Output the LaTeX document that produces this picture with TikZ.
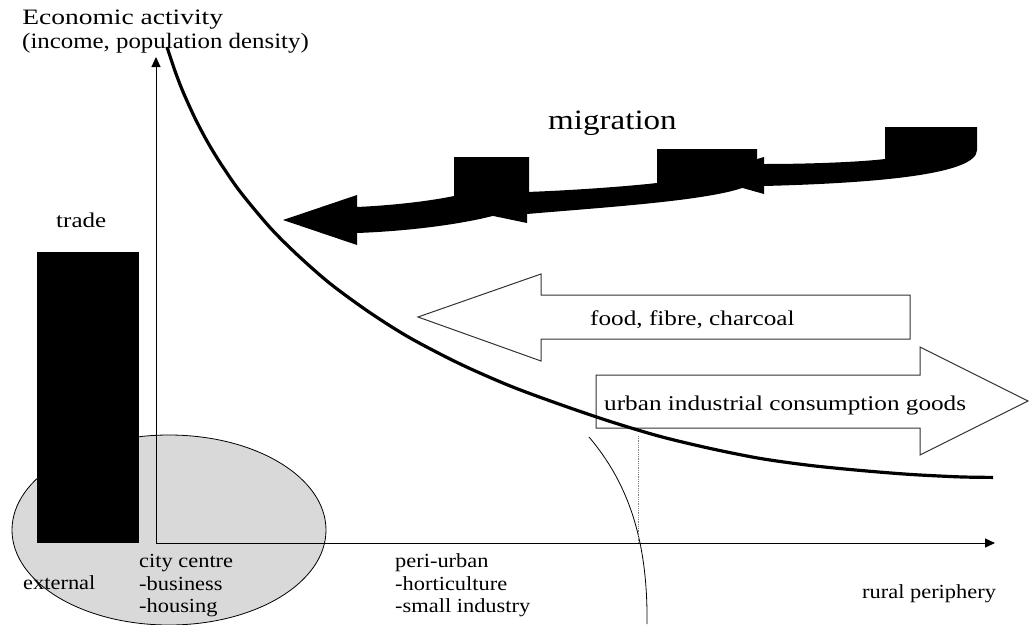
\documentclass[tikz,border=0pt]{standalone}
\usepackage{fontspec}
\setmainfont{Liberation Serif}
\usetikzlibrary{arrows.meta}
\definecolor{zonegray}{HTML}{D9D9D9}
\definecolor{edgegray}{HTML}{333333}
\begin{document}
\begin{tikzpicture}[x=1pt,y=-1pt,
  txt/.style={anchor=base west, inner sep=0pt},
  lbl/.style={txt, font=\fontsize{20}{23}\selectfont, xscale=1.12},
  flowtxt/.style={txt, font=\fontsize{21}{24}\selectfont, xscale=1.2},
  hollow/.style={draw=edgegray, line width=1pt, fill=white, line join=miter},
  axis/.style={line width=1pt, -{Triangle[length=10pt,width=9pt]}},
  flow/.style={fill=black}]
\useasboundingbox (0,0) rectangle (1035,624);

% city zone and external trade bar
\draw[fill=zonegray, line width=0.8pt] (169,530) ellipse [x radius=157, y radius=95];
\fill (37,252) rectangle (139,543);
\node[txt, font=\fontsize{21}{24}\selectfont, xscale=1.19] (trade) at (56,227) {trade};

% axes
\coordinate (origin) at (156,543);
\coordinate (ytip) at (156,57);
\coordinate (xtip) at (995,543);
\draw[axis] (origin) -- (ytip);
\draw[axis] (origin) -- (xtip);

% peri-urban boundary and marker
\draw[line width=0.8pt] (589,437) .. controls (628,483) and (648,540) .. (647,624);
\draw[gray, densely dotted, line width=0.8pt] (638,436) -- (638,543);

% migration flows (right, middle, left)
\fill[flow] (885,127) -- (977,127) -- (977,150) .. controls (977,174) and (880,183) .. (764,186)
  -- (764,194) -- (700,176) -- (764,157) -- (764,164) .. controls (810,164) and (860,162) .. (885,159) -- cycle;
\fill[flow] (657,149) -- (757,149) -- (757,178) .. controls (752,198) and (620,206) .. (527,214)
  -- (527,223) -- (455,208) -- (527,186) -- (527,192) .. controls (580,190) and (630,186) .. (657,183) -- cycle;
\fill[flow] (454,157) -- (529,157) -- (529,198) .. controls (526,214) and (440,230) .. (357,233)
  -- (357,245) -- (283,220) -- (357,195) -- (357,207) .. controls (400,205) and (435,200) .. (454,196) -- cycle;
\node[txt, font=\fontsize{28}{32}\selectfont, xscale=1.18] (migration) at (548,129) {migration};

% goods flows
\draw[hollow] (418,317) -- (541,274) -- (541,295) -- (910,295) -- (910,339) -- (541,339) -- (541,361) -- cycle;
\node[flowtxt] (food) at (590,325) {food, fibre, charcoal};
\draw[hollow] (1028,401) -- (920,347) -- (920,375) -- (596,375) -- (596,428) -- (920,428) -- (920,455) -- cycle;
\node[flowtxt] (goods) at (604,410) {urban industrial consumption goods};

% activity gradient
\draw[line width=3.2pt] plot[smooth, tension=0.5] coordinates {
  (167,47) (175,71) (183,91.8) (195,118.2) (207,141) (220,162.5) (240,191.5) (270,227.5)
  (297,254.5) (330,283.5) (370,312.7) (410,337.9) (460,363.9) (510,385.9) (560,404.4)
  (610,421.4) (660,436.4) (710,448.4) (760,458.4) (810,465.4) (860,470.4) (910,474.4)
  (960,476.9) (993,477.4)};

% titles and labels
\node[txt, font=\fontsize{22}{25}\selectfont, xscale=1.25] (title1) at (22,24) {Economic activity};
\node[txt, font=\fontsize{22}{25}\selectfont, xscale=1.13] (title2) at (22,48) {(income, population density)};
\node[lbl] (external) at (23,589) {external};
\node[lbl] (city1) at (139,567) {city centre};
\node[lbl] (city2) at (139,590) {-business};
\node[lbl] (city3) at (139,612) {-housing};
\node[lbl] (peri1) at (395,567) {peri-urban};
\node[lbl] (peri2) at (395,590) {-horticulture};
\node[lbl] (peri3) at (395,612) {-small industry};
\node[lbl] (rural) at (862,598) {rural periphery};
\end{tikzpicture}
\end{document}
